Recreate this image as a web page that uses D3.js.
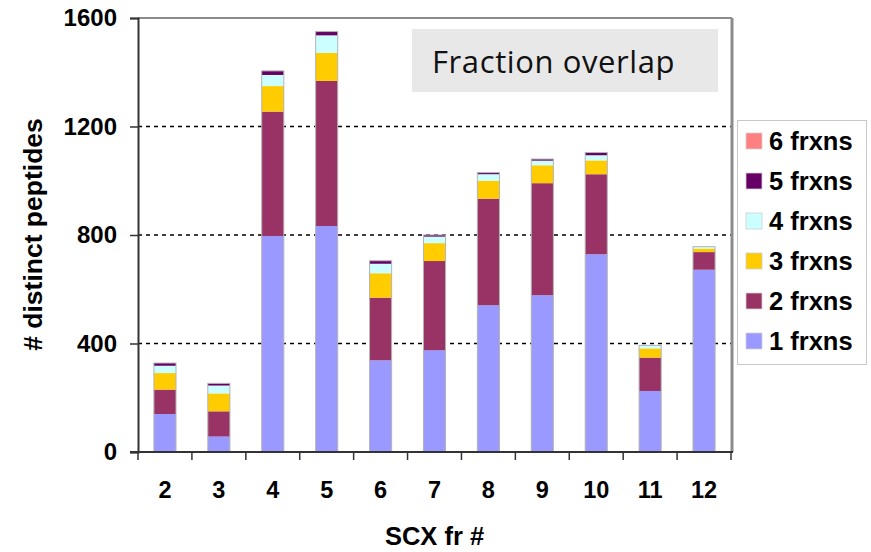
<!DOCTYPE html>
<html>
<head>
<meta charset="utf-8">
<script src="https://cdn.jsdelivr.net/npm/d3@7"></script>
<style>
  html, body { margin: 0; padding: 0; background: #fff; }
  svg { display: block; }
</style>
</head>
<body>
<svg id="chart" width="871" height="552"></svg>
<script>
// SCX fractions and the number of distinct peptides seen in 1..6 fractions
const fractions = ["2", "3", "4", "5", "6", "7", "8", "9", "10", "11", "12"];
const seriesNames = ["1 frxns", "2 frxns", "3 frxns", "4 frxns", "5 frxns", "6 frxns"];
const seriesColors = ["#9999FF", "#993366", "#FFCC00", "#CCFFFF", "#660066", "#FF8080"];
const in1 = [140, 57, 796, 833, 338, 375, 541, 578, 729, 225, 672];
const in2 = [90, 93, 459, 535, 231, 329, 393, 413, 295, 123, 65];
const in3 = [61, 66, 94, 103, 90, 66, 66, 66, 51, 34, 13];
const in4 = [27, 29, 41, 65, 35, 24, 24, 17, 19, 11, 7];
const in5 = [10, 8, 15, 14, 11, 6, 6, 6, 10, 0, 0];
const in6 = [0, 0, 0, 0, 0, 0, 0, 0, 0, 0, 0];
const yTicks = [0, 400, 800, 1200, 1600];
const gridValues = [400, 800, 1200];

const seriesValues = [in1, in2, in3, in4, in5, in6];
const rows = fractions.map((f, i) => {
  const r = { fraction: f };
  seriesNames.forEach((s, k) => { r[s] = seriesValues[k][i]; });
  return r;
});

const svg = d3.select("#chart");
const plotLeft = 138, plotRight = 731, plotTop = 18, plotBottom = 452;
const boldFont = "'Liberation Sans', Arial, sans-serif";

const x = d3.scaleBand().domain(fractions).range([plotLeft, plotRight])
  .paddingInner(0.59).paddingOuter(0.295);
const y = d3.scaleLinear().domain([0, 1600]).range([plotBottom, plotTop]);

// dashed gridlines
svg.append("g").selectAll("line").data(gridValues).join("line")
  .attr("x1", plotLeft).attr("x2", plotRight)
  .attr("y1", d => y(d)).attr("y2", d => y(d))
  .attr("stroke", "#000").attr("stroke-width", 1.6)
  .attr("stroke-dasharray", "4,4");

// plot frame: top and right border
svg.append("line").attr("x1", plotLeft).attr("x2", plotRight + 1)
  .attr("y1", y(1600)).attr("y2", y(1600))
  .attr("stroke", "#8c8c8c").attr("stroke-width", 2);
svg.append("line").attr("x1", plotRight + 1).attr("x2", plotRight + 1)
  .attr("y1", y(1600)).attr("y2", plotBottom)
  .attr("stroke", "#8c8c8c").attr("stroke-width", 3);

// stacked bars
const stack = d3.stack().keys(seriesNames)(rows);
svg.append("g").selectAll("g").data(stack).join("g")
  .attr("fill", (d, i) => seriesColors[i])
  .selectAll("rect").data(d => d.filter(p => p[1] > p[0])).join("rect")
  .attr("x", d => x(d.data.fraction))
  .attr("width", x.bandwidth())
  .attr("y", d => y(d[1]))
  .attr("height", d => y(d[0]) - y(d[1]));

// light outline round each bar
const total = d => d3.sum(seriesNames, s => d[s]);
svg.append("g").selectAll("rect").data(rows).join("rect")
  .attr("x", d => x(d.fraction))
  .attr("width", x.bandwidth())
  .attr("y", d => y(total(d)))
  .attr("height", d => plotBottom - y(total(d)))
  .attr("fill", "none").attr("stroke", "#b4b4b4").attr("stroke-width", 1);

// y axis
const yAxis = svg.append("g").attr("transform", `translate(${plotLeft},0)`)
  .call(d3.axisLeft(y).tickValues(yTicks).tickSize(8).tickPadding(13).tickFormat(d3.format("d")));
yAxis.select(".domain").attr("stroke", "#333").attr("stroke-width", 2);
yAxis.selectAll(".tick line").attr("stroke", "#333").attr("stroke-width", 1.5);
yAxis.selectAll("text")
  .attr("font-family", boldFont)
  .attr("font-weight", "bold").attr("font-size", 24).attr("fill", "#000");

// x axis: baseline, boundary ticks and fraction labels
svg.append("line").attr("x1", plotLeft - 8).attr("x2", plotRight + 2)
  .attr("y1", plotBottom).attr("y2", plotBottom)
  .attr("stroke", "#333").attr("stroke-width", 2);
const step = x.step();
const bounds = fractions.map(f => x(f) + x.bandwidth() / 2 - step / 2)
  .concat([x(fractions[fractions.length - 1]) + x.bandwidth() / 2 + step / 2]);
svg.append("g").selectAll("line").data(bounds).join("line")
  .attr("x1", d => d).attr("x2", d => d)
  .attr("y1", plotBottom).attr("y2", plotBottom + 8)
  .attr("stroke", "#333").attr("stroke-width", 1.5);
svg.append("g").selectAll("text").data(fractions).join("text")
  .attr("x", d => x(d) + x.bandwidth() / 2)
  .attr("y", 498)
  .attr("text-anchor", "middle")
  .attr("font-family", boldFont)
  .attr("font-weight", "bold").attr("font-size", 23.5)
  .text(d => d);

// axis titles
svg.append("text")
  .attr("x", (plotLeft + plotRight) / 2).attr("y", 545)
  .attr("text-anchor", "middle")
  .attr("font-family", boldFont)
  .attr("font-weight", "bold").attr("font-size", 25.5)
  .text("SCX fr #");
svg.append("text")
  .attr("transform", `translate(42,${(116 + 353) / 2}) rotate(-90)`)
  .attr("text-anchor", "middle")
  .attr("font-family", boldFont)
  .attr("font-weight", "bold").attr("font-size", 26.5)
  .text("# distinct peptides");

// title box
svg.append("rect").attr("x", 412).attr("y", 29).attr("width", 306).attr("height", 63)
  .attr("fill", "#e8e8e8");
svg.append("text").attr("x", 432).attr("y", 73)
  .attr("font-family", "'Open Sans', Lato, sans-serif")
  .attr("font-size", 31).attr("letter-spacing", 0.6).attr("fill", "#111")
  .text("Fraction overlap");

// legend, highest overlap first
const legend = svg.append("g");
legend.append("rect").attr("x", 737.5).attr("y", 120.5).attr("width", 129).attr("height", 244)
  .attr("fill", "#fff").attr("stroke", "#c8c8c8").attr("stroke-width", 1);
const legendOrder = seriesNames.map((s, i) => i).reverse();
const items = legend.selectAll("g.item").data(legendOrder).join("g")
  .attr("class", "item")
  .attr("transform", (d, j) => `translate(746,${141 + j * 40})`);
items.append("rect").attr("x", 0).attr("y", -8).attr("width", 16).attr("height", 16)
  .attr("fill", d => seriesColors[d])
  .attr("stroke", "#d0d0d0").attr("stroke-width", 0.8);
items.append("text").attr("x", 23).attr("y", 9)
  .attr("font-family", boldFont)
  .attr("font-weight", "bold").attr("font-size", 25.5)
  .text(d => seriesNames[d]);
</script>
</body>
</html>
